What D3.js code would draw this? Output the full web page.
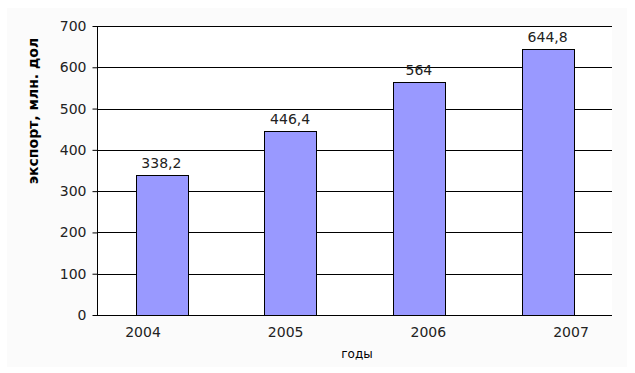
<!DOCTYPE html>
<html><head><meta charset="utf-8">
<script src="https://cdnjs.cloudflare.com/ajax/libs/d3/7.8.5/d3.min.js"></script>
<style>html,body{margin:0;padding:0;background:#fff}svg{display:block}</style>
</head><body><svg id="c" width="635" height="373"></svg>
<script>
const years = ["2004", "2005", "2006", "2007"];
const exportValues = [338.2, 446.4, 564, 644.8];
const valueLabels = ["338,2", "446,4", "564", "644,8"];
const yTicks = [0, 100, 200, 300, 400, 500, 600, 700];
const yTitle = "экспорт, млн. дол";
const xTitle = "годы";

const svg = d3.select("#c");
const font = "'DejaVu Sans', Verdana, sans-serif";
const L = 97, R = 612, T = 26, B = 315;

svg.append("rect").attr("x", 7).attr("y", 8).attr("width", 620).attr("height", 359).attr("fill", "#fbfbfb");
svg.append("rect").attr("x", L).attr("y", T).attr("width", R - L).attr("height", B - T).attr("fill", "#fff");

const x = d3.scaleBand().domain(years).range([L, R]).paddingInner(0.6).paddingOuter(0.3);
const xLab = d3.scalePoint().domain(years).range([143, 571]);
const y = d3.scaleLinear().domain([0, 700]).range([B, T]);

// gridlines
svg.append("g").selectAll("line").data(yTicks).join("line")
  .attr("x1", L).attr("x2", R)
  .attr("y1", d => Math.round(y(d)) + 0.5).attr("y2", d => Math.round(y(d)) + 0.5)
  .attr("stroke", "#000").attr("stroke-width", 1);

// y axis
const yAxis = svg.append("g").attr("transform", `translate(${L + 0.5},0)`)
  .call(d3.axisLeft(y).tickValues(yTicks).tickSize(5).tickPadding(6).tickFormat(d3.format("d")));
yAxis.select(".domain").attr("stroke", "#000").attr("d", `M0,${T}V${B}`);
yAxis.selectAll(".tick line").attr("stroke", "#000");
yAxis.selectAll(".tick text").attr("font-family", font).attr("font-size", 14).attr("fill", "#222");

// bars
svg.append("g").selectAll("rect").data(years).join("rect")
  .attr("x", d => Math.round(x(d)) + 0.5)
  .attr("y", (d, i) => Math.round(y(exportValues[i])) + 0.5)
  .attr("width", Math.round(x.bandwidth()))
  .attr("height", (d, i) => Math.round(B) - Math.round(y(exportValues[i])))
  .attr("fill", "#9999ff").attr("stroke", "#000").attr("stroke-width", 1);

// value labels
svg.append("g").selectAll("text").data(years).join("text")
  .attr("x", d => x(d) + x.bandwidth() / 2)
  .attr("y", (d, i) => y(exportValues[i]) - 7)
  .attr("text-anchor", "middle").attr("font-family", font).attr("font-size", 14).attr("fill", "#222")
  .text((d, i) => valueLabels[i]);

// x axis labels
svg.append("g").selectAll("text").data(years).join("text")
  .attr("x", d => xLab(d)).attr("y", 337)
  .attr("text-anchor", "middle").attr("font-family", font).attr("font-size", 14).attr("fill", "#222")
  .text(d => d);

// titles
svg.append("text").attr("x", 357).attr("y", 358).attr("text-anchor", "middle")
  .attr("font-family", font).attr("font-size", 12).attr("fill", "#000").text(xTitle);
svg.append("text").attr("transform", "translate(38,111) rotate(-90)").attr("text-anchor", "middle")
  .attr("font-family", font).attr("font-size", 14).attr("font-weight", "bold").attr("fill", "#000").text(yTitle);
</script></body></html>
